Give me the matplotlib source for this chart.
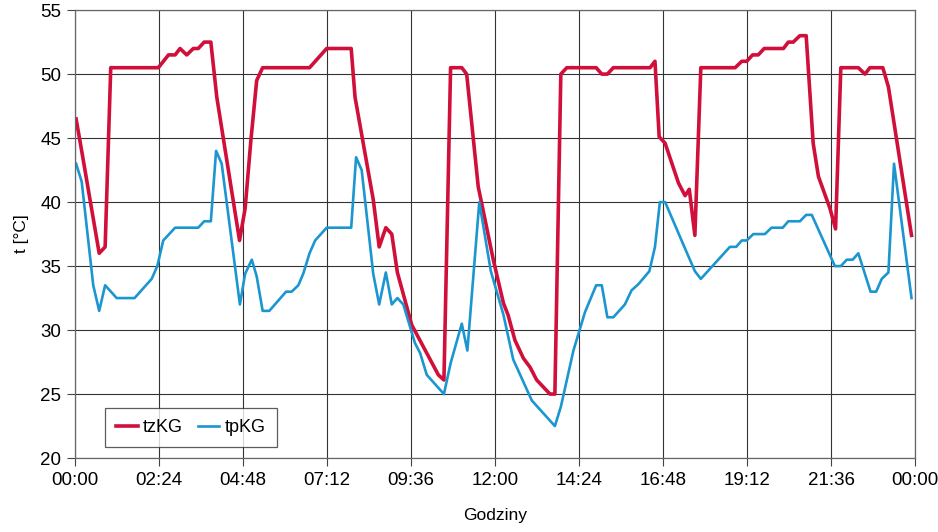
import matplotlib
matplotlib.use('Agg')
import matplotlib.pyplot as plt
from matplotlib.ticker import FuncFormatter, MultipleLocator

plt.rcParams['font.family'] = ['Liberation Sans Narrow', 'Liberation Sans', 'DejaVu Sans']

# hours since midnight / temperature in deg C
tz_hours = [0.03, 0.19, 0.69, 0.86, 1.02, 2.38, 2.67, 2.86, 3.0, 3.19, 3.38, 3.52,
            3.69, 3.88, 4.05, 4.7, 4.86, 5.02, 5.19, 5.36, 6.7, 7.19, 7.89, 8.0,
            8.52, 8.69, 8.88, 9.05, 9.21, 9.62, 10.38, 10.54, 10.73, 11.05, 11.19,
            11.52, 11.95, 12.24, 12.37, 12.57, 12.81, 13.0, 13.19, 13.57, 13.71,
            13.88, 14.05, 14.89, 15.05, 15.21, 15.38, 16.43, 16.57, 16.69, 16.86,
            17.24, 17.43, 17.55, 17.71, 17.88, 18.86, 19.05, 19.19, 19.36, 19.52,
            19.69, 20.24, 20.38, 20.52, 20.71, 20.89, 21.09, 21.24, 21.57, 21.73,
            21.88, 22.38, 22.57, 22.71, 23.08, 23.24, 23.9]
tz_temp = [46.5, 44.0, 36.0, 36.5, 50.5, 50.5, 51.5, 51.5, 52.0, 51.5, 52.0, 52.0,
           52.5, 52.5, 48.2, 37.0, 39.5, 44.7, 49.5, 50.5, 50.5, 52.0, 52.0, 48.2,
           40.2, 36.5, 38.0, 37.5, 34.5, 30.4, 26.5, 26.1, 50.5, 50.5, 50.0,
           41.2, 35.5, 32.1, 31.2, 29.2, 27.8, 27.1, 26.1, 25.0, 25.0,
           50.0, 50.5, 50.5, 50.0, 50.0, 50.5, 50.5, 51.0, 45.1, 44.6,
           41.5, 40.5, 41.0, 37.4, 50.5, 50.5, 51.0, 51.0, 51.5, 51.5,
           52.0, 52.0, 52.5, 52.5, 53.0, 53.0, 44.6, 42.0, 39.5, 37.9,
           50.5, 50.5, 50.0, 50.5, 50.5, 49.0, 37.4]

tp_hours = [0.03, 0.19, 0.52, 0.69, 0.86, 1.19, 1.7, 2.19, 2.35, 2.52, 2.86, 3.52,
            3.69, 3.88, 4.03, 4.19, 4.71, 4.86, 5.05, 5.19, 5.36, 5.55, 6.03, 6.19,
            6.38, 6.52, 6.7, 6.86, 7.19, 7.89, 8.03, 8.19, 8.52, 8.69, 8.88, 9.05,
            9.21, 9.38, 9.71, 9.86, 10.05, 10.54, 10.73, 11.05, 11.21, 11.55, 11.88,
            12.24, 12.52, 13.05, 13.71, 13.88, 14.24, 14.57, 14.89, 15.05, 15.21,
            15.38, 15.71, 15.9, 16.1, 16.41, 16.57, 16.71, 16.86, 17.33, 17.71,
            17.88, 18.71, 18.89, 19.05, 19.19, 19.38, 19.71, 19.9, 20.22, 20.38,
            20.71, 20.89, 21.05, 21.71, 21.88, 22.05, 22.22, 22.38, 22.73, 22.89,
            23.05, 23.24, 23.4, 23.9]
tp_temp = [43.0, 41.6, 33.5, 31.5, 33.5, 32.5, 32.5, 34.0, 35.0, 37.0, 38.0, 38.0,
           38.5, 38.5, 44.0, 43.0, 32.0, 34.4, 35.5, 34.2, 31.5, 31.5, 33.0, 33.0,
           33.5, 34.4, 36.0, 37.0, 38.0, 38.0, 43.5, 42.5, 34.4, 32.0, 34.5, 32.0,
           32.5, 32.0, 29.0, 28.2, 26.5, 25.0, 27.4, 30.5, 28.4, 40.0, 34.6,
           31.2, 27.7, 24.5, 22.5, 24.0, 28.4, 31.4, 33.5, 33.5, 31.0,
           31.0, 32.0, 33.1, 33.6, 34.6, 36.5, 40.0, 40.0, 37.0, 34.6,
           34.0, 36.5, 36.5, 37.0, 37.0, 37.5, 37.5, 38.0, 38.0, 38.5,
           38.5, 39.0, 39.0, 35.0, 35.0, 35.5, 35.5, 36.0, 33.0, 33.0,
           34.0, 34.5, 43.0, 32.5]


def hhmm(x, pos):
    m = int(round(x * 60)) % (24 * 60)
    return '%02d:%02d' % (m // 60, m % 60)


fig = plt.figure(figsize=(9.38, 5.32), dpi=100)
ax = fig.add_axes([0.08, 0.139, 0.8955, 0.842])

ax.plot(tz_hours, tz_temp, color='#d0103a', lw=2.6, label='tzKG')
ax.plot(tp_hours, tp_temp, color='#1b96d0', lw=1.9, label='tpKG')

ax.set_xlim(0, 24)
ax.set_ylim(20, 55)
ax.xaxis.set_major_locator(MultipleLocator(2.4))
ax.xaxis.set_major_formatter(FuncFormatter(hhmm))
ax.yaxis.set_major_locator(MultipleLocator(5))
ax.grid(True, color='#333333', lw=0.8)
ax.set_axisbelow(True)
for s in ax.spines.values():
    s.set_color('#666666')
    s.set_linewidth(0.9)
ax.tick_params(labelsize=13.5, length=6, width=0.8, color='#444444', pad=4)

ax.set_xlabel('Godziny', fontsize=12.5, labelpad=14)
ax.set_ylabel('t [°C]', fontsize=12.5, labelpad=8)

leg = ax.legend(loc='lower left', bbox_to_anchor=(0.036, 0.025), ncol=2,
                fontsize=13, frameon=True, fancybox=False, handlelength=1.2,
                columnspacing=0.8, handletextpad=0.3, borderpad=0.6,
                borderaxespad=0.0)
leg.get_frame().set_edgecolor('#333333')
leg.get_frame().set_linewidth(0.9)

fig.savefig('out.png', dpi=100)
